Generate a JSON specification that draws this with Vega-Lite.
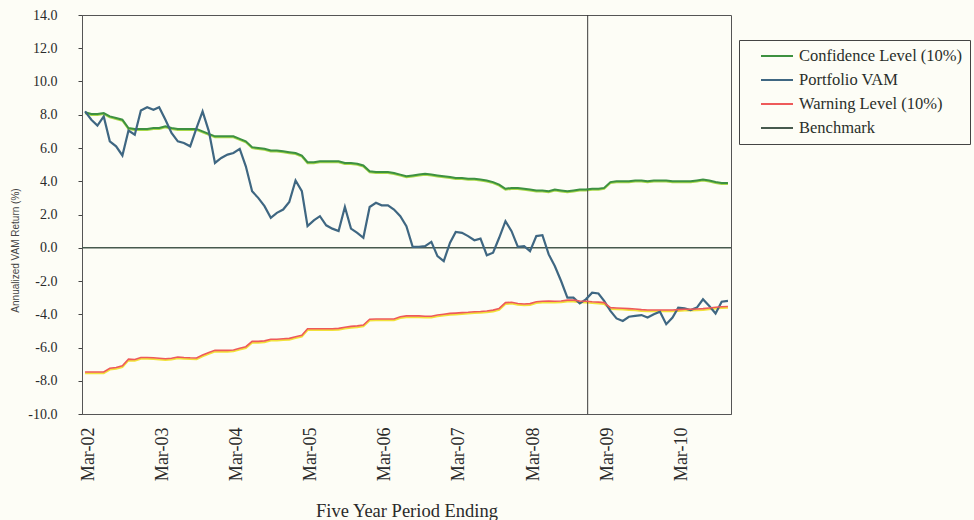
{
  "$schema": "https://vega.github.io/schema/vega-lite/v6.json",
  "width": 649,
  "height": 399,
  "autosize": {"type": "none"},
  "padding": {"left": 82, "top": 15, "right": 243, "bottom": 106},
  "background": "#fdfdf6",
  "config": {
    "view": {"stroke": "#555", "strokeWidth": 1},
    "font": "Liberation Serif",
    "legend": {
      "title": null,
      "orient": "none",
      "legendX": 657,
      "legendY": 25,
      "strokeColor": "#444",
      "fillColor": "#fdfdf6",
      "padding": 7,
      "symbolType": "M-2,0H2",
      "symbolSize": 256,
      "symbolStrokeWidth": 2,
      "symbolOffset": 22,
      "labelOffset": 13,
      "labelLimit": 400,
      "labelFont": "Liberation Serif",
      "labelFontSize": 16.5,
      "labelColor": "#2a2f2a",
      "rowPadding": 6
    }
  },
  "datasets": {
    "main": [
      {"d":"2002-03-01","c":8.15,"v":8.2,"w":-7.47},
      {"d":"2002-04-01","c":8.05,"v":7.7,"w":-7.47},
      {"d":"2002-05-01","c":8.05,"v":7.35,"w":-7.47},
      {"d":"2002-06-01","c":8.1,"v":7.9,"w":-7.47},
      {"d":"2002-07-01","c":7.9,"v":6.4,"w":-7.25},
      {"d":"2002-08-01","c":7.8,"v":6.1,"w":-7.2},
      {"d":"2002-09-01","c":7.7,"v":5.55,"w":-7.1},
      {"d":"2002-10-01","c":7.2,"v":7.05,"w":-6.7},
      {"d":"2002-11-01","c":7.15,"v":6.8,"w":-6.72},
      {"d":"2002-12-01","c":7.15,"v":8.25,"w":-6.6},
      {"d":"2003-01-01","c":7.15,"v":8.45,"w":-6.6},
      {"d":"2003-02-01","c":7.2,"v":8.3,"w":-6.62},
      {"d":"2003-03-01","c":7.2,"v":8.45,"w":-6.65},
      {"d":"2003-04-01","c":7.3,"v":7.7,"w":-6.68},
      {"d":"2003-05-01","c":7.2,"v":6.9,"w":-6.65},
      {"d":"2003-06-01","c":7.15,"v":6.4,"w":-6.57},
      {"d":"2003-07-01","c":7.15,"v":6.3,"w":-6.6},
      {"d":"2003-08-01","c":7.15,"v":6.1,"w":-6.62},
      {"d":"2003-09-01","c":7.15,"v":7.2,"w":-6.63},
      {"d":"2003-10-01","c":7.0,"v":8.2,"w":-6.45},
      {"d":"2003-11-01","c":6.85,"v":7.0,"w":-6.3},
      {"d":"2003-12-01","c":6.7,"v":5.1,"w":-6.17},
      {"d":"2004-01-01","c":6.7,"v":5.4,"w":-6.17},
      {"d":"2004-02-01","c":6.7,"v":5.6,"w":-6.17},
      {"d":"2004-03-01","c":6.7,"v":5.7,"w":-6.15},
      {"d":"2004-04-01","c":6.55,"v":5.95,"w":-6.05},
      {"d":"2004-05-01","c":6.4,"v":4.9,"w":-5.95},
      {"d":"2004-06-01","c":6.05,"v":3.4,"w":-5.63},
      {"d":"2004-07-01","c":6.0,"v":3.0,"w":-5.63},
      {"d":"2004-08-01","c":5.95,"v":2.5,"w":-5.6},
      {"d":"2004-09-01","c":5.85,"v":1.8,"w":-5.5},
      {"d":"2004-10-01","c":5.85,"v":2.1,"w":-5.5},
      {"d":"2004-11-01","c":5.8,"v":2.3,"w":-5.47},
      {"d":"2004-12-01","c":5.75,"v":2.75,"w":-5.45},
      {"d":"2005-01-01","c":5.7,"v":4.05,"w":-5.35},
      {"d":"2005-02-01","c":5.55,"v":3.4,"w":-5.27},
      {"d":"2005-03-01","c":5.15,"v":1.3,"w":-4.87},
      {"d":"2005-04-01","c":5.15,"v":1.65,"w":-4.87},
      {"d":"2005-05-01","c":5.2,"v":1.9,"w":-4.87},
      {"d":"2005-06-01","c":5.2,"v":1.35,"w":-4.87},
      {"d":"2005-07-01","c":5.2,"v":1.15,"w":-4.87},
      {"d":"2005-08-01","c":5.2,"v":1.0,"w":-4.85},
      {"d":"2005-09-01","c":5.1,"v":2.45,"w":-4.78},
      {"d":"2005-10-01","c":5.1,"v":1.15,"w":-4.73},
      {"d":"2005-11-01","c":5.05,"v":0.9,"w":-4.7},
      {"d":"2005-12-01","c":4.95,"v":0.6,"w":-4.65},
      {"d":"2006-01-01","c":4.6,"v":2.45,"w":-4.3},
      {"d":"2006-02-01","c":4.55,"v":2.7,"w":-4.29},
      {"d":"2006-03-01","c":4.55,"v":2.55,"w":-4.29},
      {"d":"2006-04-01","c":4.55,"v":2.55,"w":-4.29},
      {"d":"2006-05-01","c":4.5,"v":2.3,"w":-4.29},
      {"d":"2006-06-01","c":4.4,"v":1.9,"w":-4.15},
      {"d":"2006-07-01","c":4.3,"v":1.3,"w":-4.1},
      {"d":"2006-08-01","c":4.35,"v":0.05,"w":-4.1},
      {"d":"2006-09-01","c":4.4,"v":0.05,"w":-4.1},
      {"d":"2006-10-01","c":4.45,"v":0.1,"w":-4.12},
      {"d":"2006-11-01","c":4.4,"v":0.35,"w":-4.12},
      {"d":"2006-12-01","c":4.35,"v":-0.5,"w":-4.05},
      {"d":"2007-01-01","c":4.3,"v":-0.8,"w":-4.0},
      {"d":"2007-02-01","c":4.25,"v":0.3,"w":-3.95},
      {"d":"2007-03-01","c":4.2,"v":0.95,"w":-3.93},
      {"d":"2007-04-01","c":4.2,"v":0.9,"w":-3.9},
      {"d":"2007-05-01","c":4.15,"v":0.7,"w":-3.88},
      {"d":"2007-06-01","c":4.15,"v":0.45,"w":-3.85},
      {"d":"2007-07-01","c":4.1,"v":0.55,"w":-3.83},
      {"d":"2007-08-01","c":4.05,"v":-0.45,"w":-3.8},
      {"d":"2007-09-01","c":3.95,"v":-0.3,"w":-3.75},
      {"d":"2007-10-01","c":3.8,"v":0.6,"w":-3.65},
      {"d":"2007-11-01","c":3.55,"v":1.6,"w":-3.3},
      {"d":"2007-12-01","c":3.6,"v":1.0,"w":-3.28},
      {"d":"2008-01-01","c":3.6,"v":0.05,"w":-3.35},
      {"d":"2008-02-01","c":3.55,"v":0.1,"w":-3.38},
      {"d":"2008-03-01","c":3.5,"v":-0.2,"w":-3.36},
      {"d":"2008-04-01","c":3.45,"v":0.7,"w":-3.25},
      {"d":"2008-05-01","c":3.45,"v":0.75,"w":-3.22},
      {"d":"2008-06-01","c":3.4,"v":-0.4,"w":-3.2},
      {"d":"2008-07-01","c":3.5,"v":-1.1,"w":-3.22},
      {"d":"2008-08-01","c":3.45,"v":-2.0,"w":-3.2},
      {"d":"2008-09-01","c":3.4,"v":-3.0,"w":-3.15},
      {"d":"2008-10-01","c":3.45,"v":-3.0,"w":-3.15},
      {"d":"2008-11-01","c":3.5,"v":-3.35,"w":-3.2},
      {"d":"2008-12-01","c":3.5,"v":-3.1,"w":-3.22},
      {"d":"2009-01-01","c":3.55,"v":-2.7,"w":-3.25},
      {"d":"2009-02-01","c":3.55,"v":-2.75,"w":-3.27},
      {"d":"2009-03-01","c":3.6,"v":-3.2,"w":-3.3},
      {"d":"2009-04-01","c":3.95,"v":-3.8,"w":-3.6},
      {"d":"2009-05-01","c":4.0,"v":-4.25,"w":-3.62},
      {"d":"2009-06-01","c":4.0,"v":-4.4,"w":-3.64},
      {"d":"2009-07-01","c":4.0,"v":-4.15,"w":-3.66},
      {"d":"2009-08-01","c":4.05,"v":-4.1,"w":-3.68},
      {"d":"2009-09-01","c":4.05,"v":-4.05,"w":-3.72},
      {"d":"2009-10-01","c":4.0,"v":-4.2,"w":-3.74},
      {"d":"2009-11-01","c":4.05,"v":-4.0,"w":-3.74},
      {"d":"2009-12-01","c":4.05,"v":-3.85,"w":-3.74},
      {"d":"2010-01-01","c":4.05,"v":-4.6,"w":-3.74},
      {"d":"2010-02-01","c":4.0,"v":-4.2,"w":-3.74},
      {"d":"2010-03-01","c":4.0,"v":-3.6,"w":-3.72},
      {"d":"2010-04-01","c":4.0,"v":-3.65,"w":-3.7},
      {"d":"2010-05-01","c":4.0,"v":-3.75,"w":-3.7},
      {"d":"2010-06-01","c":4.05,"v":-3.6,"w":-3.68},
      {"d":"2010-07-01","c":4.1,"v":-3.1,"w":-3.66},
      {"d":"2010-08-01","c":4.05,"v":-3.5,"w":-3.62},
      {"d":"2010-09-01","c":3.95,"v":-3.95,"w":-3.58},
      {"d":"2010-10-01","c":3.9,"v":-3.25,"w":-3.55},
      {"d":"2010-11-01","c":3.9,"v":-3.2,"w":-3.53}
    ]
  },
  "layer": [
    {
      "data": {"name": "main"},
      "mark": {"type": "line", "color": "#f2e23a", "strokeWidth": 2, "yOffset": 1.3},
      "encoding": {
        "x": {
          "field": "d", "type": "temporal",
          "scale": {"type": "utc", "domain": [{"year": 2002, "month": 2, "date": 14, "utc": true}, {"year": 2010, "month": 11, "date": 16, "utc": true}]},
          "axis": {
            "values": [
              {"year": 2002, "month": 3, "date": 1, "utc": true},
              {"year": 2003, "month": 3, "date": 1, "utc": true},
              {"year": 2004, "month": 3, "date": 1, "utc": true},
              {"year": 2005, "month": 3, "date": 1, "utc": true},
              {"year": 2006, "month": 3, "date": 1, "utc": true},
              {"year": 2007, "month": 3, "date": 1, "utc": true},
              {"year": 2008, "month": 3, "date": 1, "utc": true},
              {"year": 2009, "month": 3, "date": 1, "utc": true},
              {"year": 2010, "month": 3, "date": 1, "utc": true}
            ],
            "tickCount": 20,
            "labelExpr": "utcFormat(datum.value, '%b-%y')",
            "labelAngle": -90,
            "labelOverlap": false,
            "labelFont": "Liberation Serif",
            "labelFontSize": 18,
            "labelColor": "#2a2a2a",
            "labelPadding": 13,
            "labelOffset": 3,
            "ticks": false,
            "grid": false,
            "domainColor": "#555",
            "title": "Five Year Period Ending",
            "titleFont": "Liberation Serif",
            "titleFontSize": 18.5,
            "titleFontWeight": "normal",
            "titleColor": "#2a2a2a",
            "titleBaseline": "middle",
            "titleY": 96
          }
        },
        "y": {
          "field": "w", "type": "quantitative",
          "title": "Annualized VAM Return (%)",
          "scale": {"domain": [-10, 14], "nice": false, "zero": false},
          "axis": {
            "values": [-10, -8, -6, -4, -2, 0, 2, 4, 6, 8, 10, 12, 14],
            "tickCount": 20,
            "labelExpr": "replace(format(datum.value, '.1f'), '\u2212', '-')",
            "labelOverlap": false,
            "labelFont": "Liberation Serif",
            "labelFontSize": 14,
            "labelColor": "#2a2a2a",
            "labelPadding": 21,
            "tickSize": 4,
            "tickColor": "#444",
            "domainColor": "#555",
            "grid": false,
            "title": "Annualized VAM Return (%)",
            "titleFont": "Liberation Sans",
            "titleFontSize": 10,
            "titleFontWeight": "normal",
            "titleColor": "#444",
            "titleAngle": -90,
            "titleAlign": "center",
            "titleBaseline": "middle",
            "titleX": -67,
            "titleY": 235
          }
        }
      }
    },
    {
      "data": {"name": "main"},
      "mark": {"type": "line", "color": "#a8d84a", "strokeWidth": 2, "yOffset": 1},
      "encoding": {
        "x": {"field": "d", "type": "temporal"},
        "y": {"field": "c", "type": "quantitative", "title": "Annualized VAM Return (%)"}
      }
    },
    {
      "data": {"values": [{"b": 0}]},
      "mark": {"type": "rule", "strokeWidth": 1.3},
      "encoding": {
        "y": {"field": "b", "type": "quantitative", "title": "Annualized VAM Return (%)"},
        "color": {"datum": "Benchmark"}
      }
    },
    {
      "data": {"values": [{"d": "2008-12-10"}]},
      "mark": {"type": "rule", "color": "#3a3a3a", "strokeWidth": 1},
      "encoding": {
        "x": {"field": "d", "type": "temporal"}
      }
    },
    {
      "data": {"name": "main"},
      "mark": {"type": "line", "strokeWidth": 2},
      "encoding": {
        "x": {"field": "d", "type": "temporal"},
        "y": {"field": "c", "type": "quantitative", "title": "Annualized VAM Return (%)"},
        "color": {
          "datum": "Confidence Level (10%)",
          "scale": {
            "domain": ["Confidence Level (10%)", "Portfolio VAM", "Warning Level (10%)", "Benchmark"],
            "range": ["#3d9140", "#3f6782", "#ee5a5a", "#475a4e"]
          }
        }
      }
    },
    {
      "data": {"name": "main"},
      "mark": {"type": "line", "strokeWidth": 2.2},
      "encoding": {
        "x": {"field": "d", "type": "temporal"},
        "y": {"field": "v", "type": "quantitative", "title": "Annualized VAM Return (%)"},
        "color": {"datum": "Portfolio VAM"}
      }
    },
    {
      "data": {"name": "main"},
      "mark": {"type": "line", "strokeWidth": 1.6},
      "encoding": {
        "x": {"field": "d", "type": "temporal"},
        "y": {"field": "w", "type": "quantitative", "title": "Annualized VAM Return (%)"},
        "color": {"datum": "Warning Level (10%)"}
      }
    }
  ]
}
